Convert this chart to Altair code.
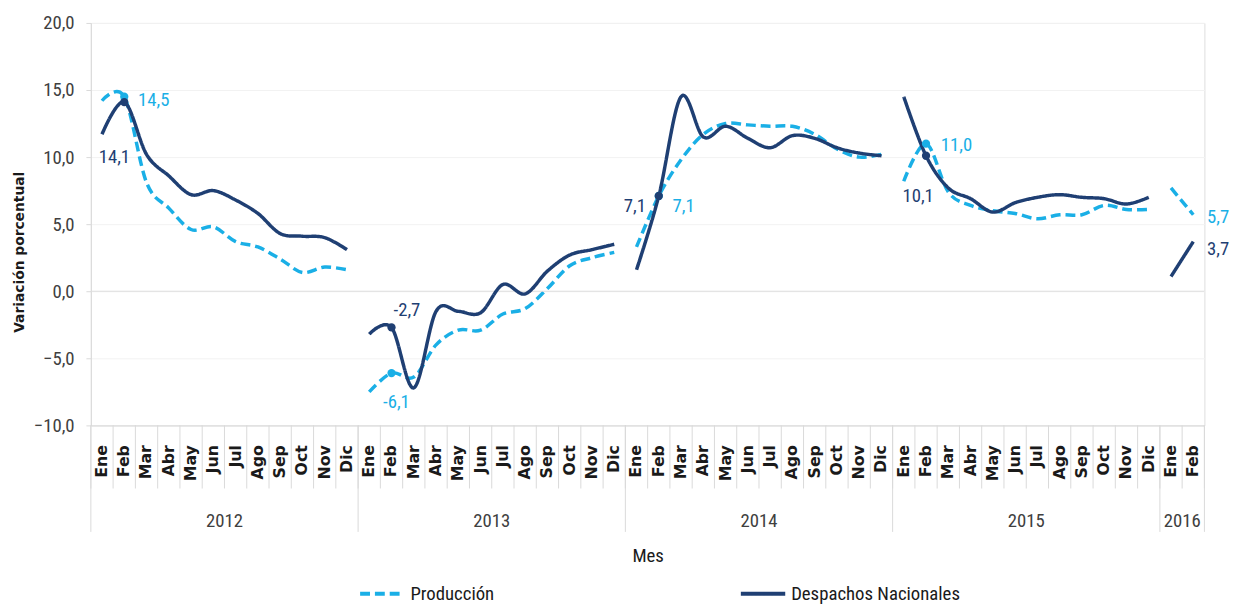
import altair as alt
import pandas as pd

# ---------------- data ----------------
months = ["Ene", "Feb", "Mar", "Abr", "May", "Jun", "Jul", "Ago", "Sep", "Oct", "Nov", "Dic"]
years = ["2012", "2013", "2014", "2015", "2016"]
series_names = ["Producción", "Despachos Nacionales"]

produccion_2012 = [14.2, 14.5, 8.1, 6.2, 4.6, 4.8, 3.7, 3.3, 2.4, 1.4, 1.8, 1.6]
despachos_2012 = [11.7, 14.1, 10.2, 8.6, 7.2, 7.5, 6.8, 5.8, 4.3, 4.1, 4.0, 3.1]
produccion_2013 = [-7.5, -6.1, -6.4, -4.0, -2.9, -2.9, -1.7, -1.3, 0.2, 1.9, 2.5, 2.9]
despachos_2013 = [-3.2, -2.7, -7.2, -1.5, -1.5, -1.6, 0.5, -0.2, 1.5, 2.7, 3.1, 3.5]
produccion_2014 = [3.3, 7.1, 9.8, 11.7, 12.5, 12.4, 12.3, 12.3, 11.7, 10.6, 10.0, 10.2]
despachos_2014 = [1.6, 7.1, 14.5, 11.5, 12.3, 11.4, 10.7, 11.6, 11.4, 10.7, 10.3, 10.1]
produccion_2015 = [8.2, 11.0, 7.4, 6.4, 6.0, 5.8, 5.4, 5.7, 5.7, 6.4, 6.1, 6.1]
despachos_2015 = [14.5, 10.1, 7.7, 6.9, 5.9, 6.6, 7.0, 7.2, 7.0, 6.9, 6.5, 7.0]
produccion_2016 = [7.7, 5.7]
despachos_2016 = [1.1, 3.7]

y_ticks = [-10, -5, 0, 5, 10, 15, 20]

produccion = [produccion_2012, produccion_2013, produccion_2014, produccion_2015, produccion_2016]
despachos = [despachos_2012, despachos_2013, despachos_2014, despachos_2015, despachos_2016]

# ---------------- tables ----------------
rows = []
idx = 0
year_start = {}
for y, p_vals, d_vals in zip(years, produccion, despachos):
    year_start[y] = idx
    for m, (pv, dv) in enumerate(zip(p_vals, d_vals)):
        rows.append({"idx": idx, "year": y, "mes": months[m], "serie": series_names[0], "valor": pv})
        rows.append({"idx": idx, "year": y, "mes": months[m], "serie": series_names[1], "valor": dv})
        idx += 1
n_months = idx
df = pd.DataFrame(rows)
month_df = df[df.serie == series_names[0]][["idx", "mes", "year"]].reset_index(drop=True)

year_df = pd.DataFrame({
    "year": years,
    "center": [year_start[y] + (len(p) - 1) / 2 for y, p in zip(years, produccion)],
})
month_bounds = pd.DataFrame({"b": [i - 0.5 for i in range(n_months + 1)]})
year_bounds = pd.DataFrame({"b": [year_start[y] - 0.5 for y in years] + [n_months - 0.5]})
zero_df = pd.DataFrame({"z": [0]})

LIGHT = "#1AAFE6"
DARK = "#1F3F73"
GREY_TXT = "#404040"
NARROW = "Liberation Sans Narrow, Arial Narrow, Roboto Condensed, sans-serif"

W, H = 1129, 408

x_scale = alt.Scale(domain=[-0.5, n_months - 0.5], nice=False, zero=False)
y_scale = alt.Scale(domain=[-10, 20], nice=False, zero=False)

x_main = alt.X(
    "idx:Q", scale=x_scale,
    axis=alt.Axis(
        values=list(range(n_months)), labels=False, ticks=False, grid=False,
        domainColor="#D9D9D9", title="Mes", titleFont=NARROW, titleFontSize=19,
        titleFontWeight="normal", titleColor="#1a1a1a", titlePadding=123,
    ),
)
y_main = alt.Y(
    "valor:Q", scale=y_scale,
    axis=alt.Axis(
        values=y_ticks, labelExpr="replace(format(datum.value, '.1f'), '.', ',')",
        labelFont=NARROW, labelFontSize=19, labelColor=GREY_TXT, labelPadding=12,
        tickSize=5, tickColor="#D9D9D9", domainColor="#D9D9D9",
        gridColor="#F2F2F2", title="Variación porcentual", titleFont="DejaVu Sans",
        titleFontSize=14, titleFontWeight="bold", titleColor="#1a1a1a", titlePadding=7,
        titleY=232,
    ),
)
x_plain = alt.X("idx:Q", scale=x_scale)
y_plain = alt.Y("valor:Q", scale=y_scale)

legend_def = alt.Legend(
    title=None, orient="none", legendX=271, legendY=554, direction="horizontal",
    symbolType="stroke", symbolSize=2025, symbolStrokeWidth=4,
    labelFont=NARROW, labelFontSize=19, labelColor="#1a1a1a", columnPadding=242,
    labelOffset=4, labelLimit=300,
)
color_enc = alt.Color("serie:N", scale=alt.Scale(domain=series_names, range=[LIGHT, DARK]),
                      legend=legend_def)
dash_enc = alt.StrokeDash("serie:N", scale=alt.Scale(domain=series_names, range=[[10, 5], [1, 0]]),
                          legend=legend_def)

base = alt.Chart(df)

lines_p = base.transform_filter(alt.datum.serie == series_names[0]).mark_line(
    interpolate="cardinal", strokeWidth=3.5
).encode(x=x_main, y=y_main, color=color_enc, strokeDash=dash_enc, detail="year:N")

lines_d = base.transform_filter(alt.datum.serie == series_names[1]).mark_line(
    interpolate="cardinal", strokeWidth=3.5
).encode(x=x_plain, y=y_plain, color=color_enc, strokeDash=dash_enc, detail="year:N")

zero_line = alt.Chart(zero_df).mark_rule(color="#DDDDDD", strokeWidth=1).encode(
    y=alt.Y("z:Q", scale=y_scale))

# Feb markers (2012-2015)
feb_pts_p = base.transform_filter(
    (alt.datum.mes == "Feb") & (alt.datum.year != "2016") & (alt.datum.serie == series_names[0])
).mark_circle(size=70, opacity=1, color=LIGHT).encode(x=x_plain, y=y_plain)
feb_pts_d = base.transform_filter(
    (alt.datum.mes == "Feb") & (alt.datum.year != "2016") & (alt.datum.serie == series_names[1])
).mark_circle(size=70, opacity=1, color=DARK).encode(x=x_plain, y=y_plain)


def label(year, serie, color, align, dx, dy):
    src = df[(df.year == year) & (df.mes == "Feb") & (df.serie == serie)].copy()
    src["txt"] = src["valor"].map(lambda v: ("%.1f" % v).replace(".", ","))
    return alt.Chart(src).mark_text(
        align=align, baseline="middle", dx=dx, dy=dy, font=NARROW, fontSize=19, color=color
    ).encode(x=x_plain, y=y_plain, text="txt:N")


P, D = series_names
labels = [
    label("2012", P, LIGHT, "left", 14, 3),
    label("2012", D, DARK, "center", -10, 56),
    label("2013", D, DARK, "left", 2, -18),
    label("2013", P, LIGHT, "center", 5, 29),
    label("2014", D, DARK, "right", -13, 10),
    label("2014", P, LIGHT, "left", 14, 10),
    label("2015", P, LIGHT, "left", 15, 1),
    label("2015", D, DARK, "center", -8, 41),
    label("2016", P, LIGHT, "left", 14, 2),
    label("2016", D, DARK, "left", 14, 8),
]

# two-level category axis below the plot: month names, separators, years
month_txt = alt.Chart(month_df).mark_text(
    angle=270, align="right", baseline="middle", font="DejaVu Sans", fontWeight="bold",
    fontSize=16, color="#1a1a1a"
).encode(x=x_plain, y=alt.value(H + 20), text="mes:N")
month_sep = alt.Chart(month_bounds).mark_rule(color="#D9D9D9", strokeWidth=1).encode(
    x=alt.X("b:Q", scale=x_scale), y=alt.value(H), y2=alt.value(H + 64))
year_sep = alt.Chart(year_bounds).mark_rule(color="#D9D9D9", strokeWidth=1).encode(
    x=alt.X("b:Q", scale=x_scale), y=alt.value(H), y2=alt.value(H + 108))
year_txt = alt.Chart(year_df).mark_text(
    font=NARROW, fontSize=19, color=GREY_TXT, baseline="middle", align="center"
).encode(x=alt.X("center:Q", scale=x_scale), y=alt.value(H + 97), text="year:N")

chart = alt.layer(
    lines_p, month_sep, year_sep, month_txt, year_txt, zero_line, lines_d,
    feb_pts_p, feb_pts_d, *labels
).properties(
    width=W, height=H, padding={"left": 4, "top": 2, "right": 5, "bottom": 0}
).configure_view(stroke=None).configure(background="white")

chart.save("out.html", embed_options={"renderer": "svg", "actions": False})
